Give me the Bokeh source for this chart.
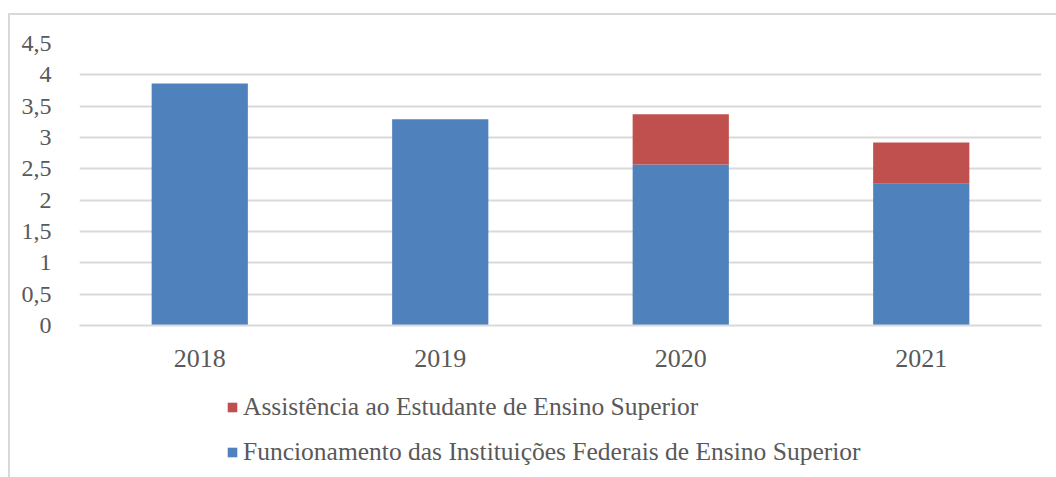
from bokeh.plotting import figure
from bokeh.layouts import column
from bokeh.models import ColumnDataSource, FixedTicker, Legend, LegendItem
from bokeh.embed import file_html
from bokeh.resources import INLINE

years = ["2018", "2019", "2020", "2021"]
funcionamento = [3.86, 3.29, 2.57, 2.26]
assistencia = [0.0, 0.0, 0.80, 0.66]
series_keys = ["funcionamento", "assistencia"]
series_names = ["Funcionamento das Instituições Federais de Ensino Superior",
                "Assistência ao Estudante de Ensino Superior"]
series_colors = ["#4f81bd", "#c0504d"]
y_ticks = [0, 0.5, 1, 1.5, 2, 2.5, 3, 3.5, 4, 4.5]
y_tick_labels = ["0", "0,5", "1", "1,5", "2", "2,5", "3", "3,5", "4", "4,5"]

FONT = "Liberation Serif"
TXT = "#595959"
GRID = "#d9d9d9"

source = ColumnDataSource(data=dict(year=years, funcionamento=funcionamento, assistencia=assistencia))

p = figure(x_range=years, y_range=(0, 4.5), width=1046, height=370,
           output_backend="svg", toolbar_location=None,
           min_border_left=69, min_border_right=15, min_border_top=28, min_border_bottom=60)

rs = p.vbar_stack(series_keys, x="year", width=0.4, color=series_colors, source=source,
                  line_color=None)

p.outline_line_color = None
p.xgrid.grid_line_color = None
p.ygrid.grid_line_color = GRID
p.ygrid.grid_line_width = 2
p.yaxis.ticker = FixedTicker(ticks=y_ticks)
p.yaxis.major_label_overrides = {t: l for t, l in zip(y_ticks, y_tick_labels)}
p.yaxis.axis_line_color = None
p.yaxis.major_tick_line_color = None
p.yaxis.minor_tick_line_color = None
p.yaxis.major_label_standoff = 22
p.yaxis.major_label_text_font = FONT
p.yaxis.major_label_text_font_size = "24px"
p.yaxis.major_label_text_color = TXT

p.xaxis.axis_line_color = GRID
p.xaxis.axis_line_width = 2
p.xaxis.major_tick_line_color = None
p.xaxis.minor_tick_line_color = None
p.xaxis.major_label_standoff = 18
p.xaxis.major_label_text_font = FONT
p.xaxis.major_label_text_font_size = "26px"
p.xaxis.major_label_text_color = TXT

# legend panel (separate figure below the chart); its bars lie outside its view,
# so only the legend entries show
lf = figure(width=1046, height=92, x_range=years, y_range=(100, 101),
            output_backend="svg", toolbar_location=None,
            x_axis_location=None, y_axis_location=None,
            min_border_left=0, min_border_right=0, min_border_top=0, min_border_bottom=0)
lf.grid.grid_line_color = None
lf.outline_line_color = None
ls = lf.vbar_stack(series_keys, x="year", width=0.4, color=series_colors,
                   source=source, line_color=None)

legend = Legend(items=[LegendItem(label=series_names[1], renderers=[ls[1]]),
                       LegendItem(label=series_names[0], renderers=[ls[0]])],
                location=(147, 10), orientation="vertical",
                glyph_width=12, glyph_height=12, label_standoff=5, spacing=15,
                padding=0, margin=0, border_line_color=None, background_fill_alpha=0,
                label_text_font=FONT, label_text_font_size="25.5px", label_text_color=TXT)
lf.add_layout(legend, "center")

layout = column(p, lf, spacing=0,
                styles={"margin-left": "8px", "margin-top": "13px",
                        "border-left": "2px solid #d9d9d9", "border-top": "2px solid #d9d9d9"})

open("out.html", "w").write(file_html(layout, INLINE))
